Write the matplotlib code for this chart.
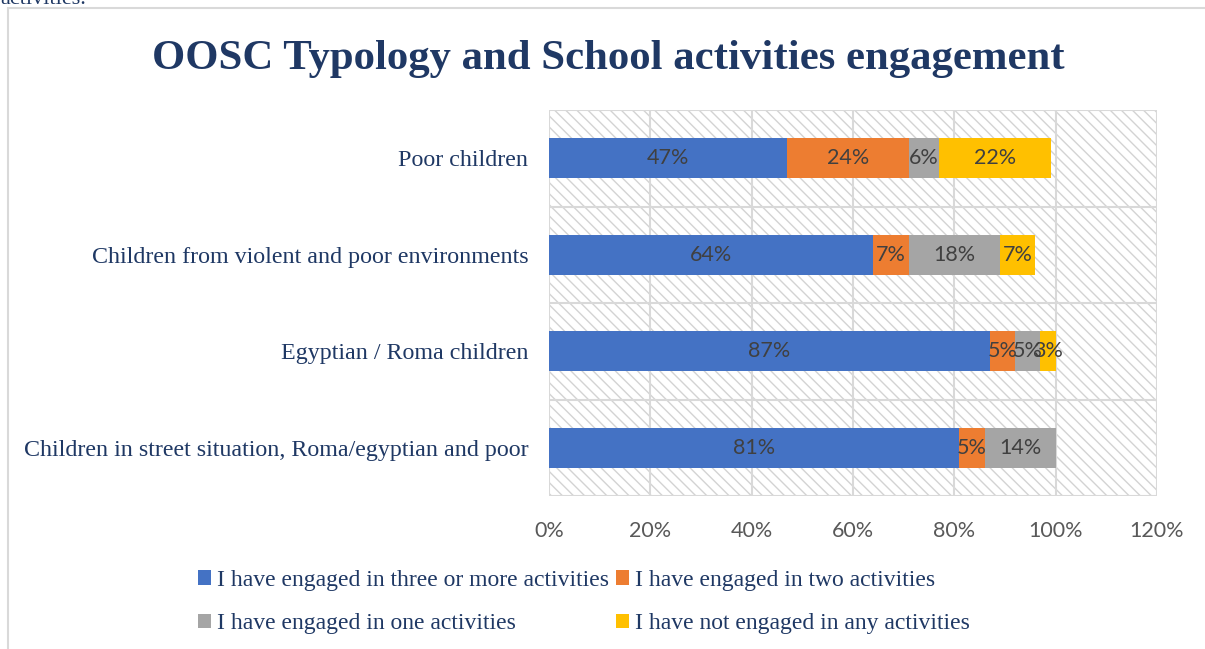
import matplotlib.pyplot as plt
from matplotlib.patches import Rectangle

# categories listed bottom -> top
categories = [
    "Children in street situation, Roma/egyptian and poor",
    "Egyptian / Roma children",
    "Children from violent and poor environments",
    "Poor children",
]
three_plus = [81, 87, 64, 47]
two = [5, 5, 7, 24]
one = [14, 5, 18, 6]
none_ = [0, 3, 7, 22]

series_names = [
    "I have engaged in three or more activities",
    "I have engaged in two activities",
    "I have engaged in one activities",
    "I have not engaged in any activities",
]
colors = ["#4472C4", "#ED7D31", "#A5A5A5", "#FFC000"]
xticks = [0, 20, 40, 60, 80, 100, 120]

navy = "#1F3864"
serif = ["Liberation Serif", "DejaVu Serif"]
sans = ["Lato", "DejaVu Sans"]

fig = plt.figure(figsize=(12.05, 6.49), dpi=100)

# light frame around the chart area
fig.patches.append(Rectangle((8 / 1205, -0.1), 1.2, 1 - 8 / 649 + 0.1,
                             transform=fig.transFigure, fill=False,
                             edgecolor="#D9D9D9", linewidth=1.5))
# tail end of the preceding paragraph
fig.text(0.0, 1.0, "activities.", fontsize=16, family=serif, color=navy,
         va="center", ha="left")

ax = fig.add_axes([549 / 1205, 1 - 496 / 649, (1157 - 549) / 1205, (496 - 110) / 649])
ax.set_xlim(0, 120)
ax.set_ylim(-0.5, 3.5)

# hatched plot area
plt.rcParams["hatch.linewidth"] = 1.0
ax.add_patch(Rectangle((0, -0.5), 120, 4, facecolor="white", edgecolor="#D3D3D3",
                       hatch="\\\\\\", linewidth=0, zorder=0))

for x in xticks:
    ax.axvline(x, color="#D9D9D9", linewidth=1.5, zorder=1)
for y in [-0.5, 0.5, 1.5, 2.5, 3.5]:
    ax.axhline(y, color="#D9D9D9", linewidth=1.5, zorder=1)

ypos = list(range(len(categories)))
left = [0] * len(categories)
handles = []
for vals, name, c in zip([three_plus, two, one, none_], series_names, colors):
    bars = ax.barh(ypos, vals, left=left, height=0.41, color=c, label=name, zorder=2)
    handles.append(bars)
    for b, v in zip(bars, vals):
        if v > 0:
            ax.text(b.get_x() + b.get_width() / 2, b.get_y() + b.get_height() / 2,
                    f"{v}%", ha="center", va="center", fontsize=15.5,
                    family=sans, color="#404040", zorder=3)
    left = [l + v for l, v in zip(left, vals)]

for s in ax.spines.values():
    s.set_visible(False)
ax.set_xticks(xticks)
ax.set_xticklabels([f"{x}%" for x in xticks], family=sans, fontsize=15.5, color="#595959")
ax.set_yticks(ypos)
ax.set_yticklabels(categories, family=serif, fontsize=17.3, color=navy)
ax.tick_params(axis="both", length=0)
ax.tick_params(axis="x", pad=18)
ax.tick_params(axis="y", pad=15)

fig.text(608 / 1205, 1 - 59 / 649, "OOSC Typology and School activities engagement",
         ha="center", va="center", fontsize=30.8, fontweight="bold",
         family=serif, color=navy)

# column-major fill: put entries so rows read three+/two, one/none
order = [0, 2, 1, 3]
leg = fig.legend([handles[i] for i in order], [series_names[i] for i in order],
                 ncol=2, loc="center", bbox_to_anchor=(584 / 1205, 1 - 602 / 649),
                 frameon=False, prop={"family": serif, "size": 17},
                 handlelength=0.55, handleheight=0.55, handletextpad=0.25,
                 columnspacing=0.3, labelspacing=0.95)
for t in leg.get_texts():
    t.set_color(navy)

fig.savefig("out.png", dpi=100)
